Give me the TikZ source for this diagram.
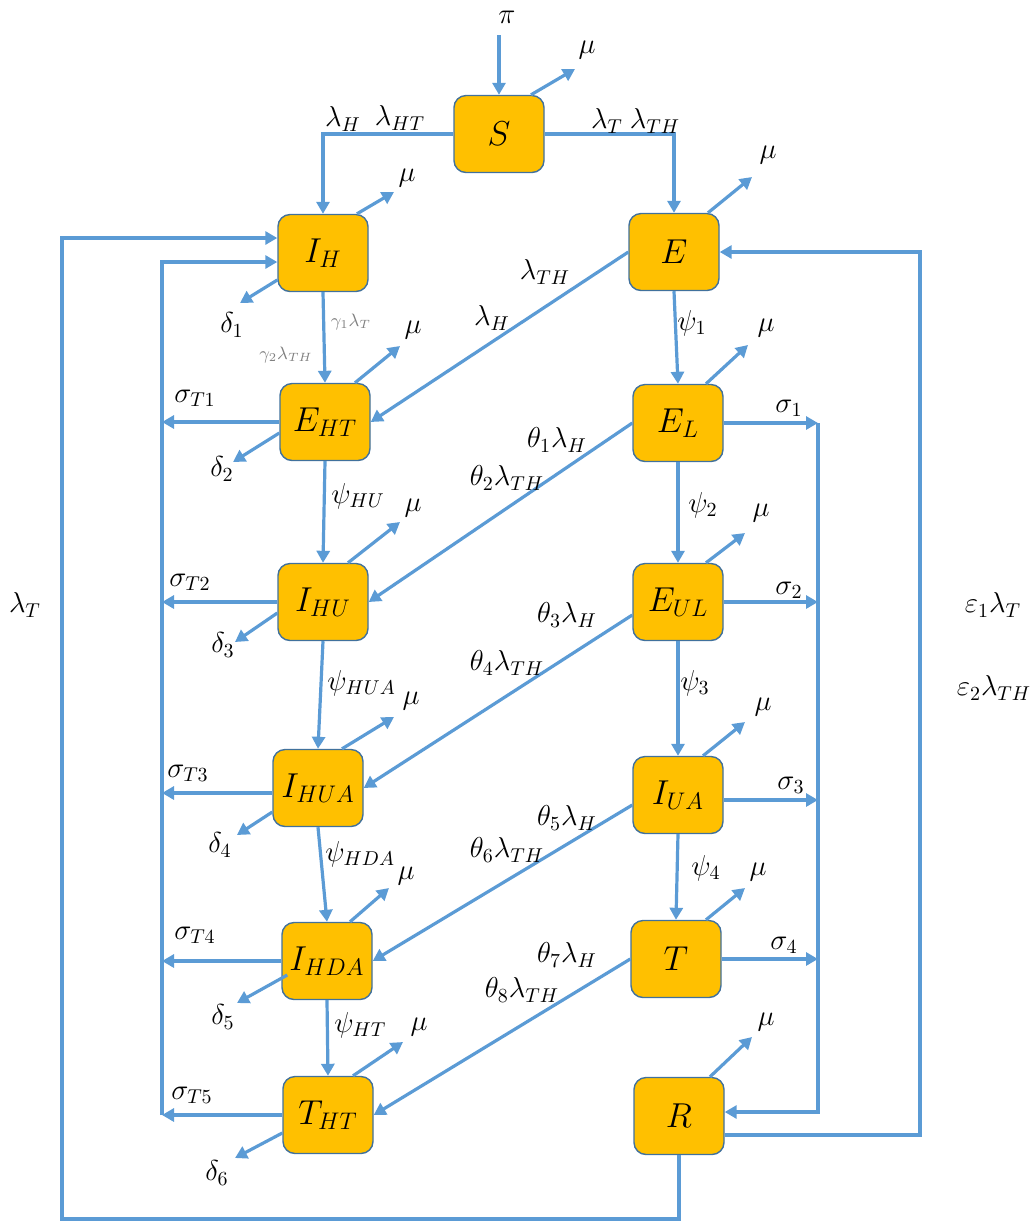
\documentclass[tikz,border=0pt]{standalone}
\usetikzlibrary{arrows.meta}
\definecolor{boxfill}{HTML}{FFC000}
\definecolor{boxline}{HTML}{41719C}
\definecolor{flowc}{HTML}{5B9BD5}
\begin{document}
\begin{tikzpicture}[x=0.5pt,y=-0.5pt,
  comp/.style={draw=boxline, line width=0.7pt, fill=boxfill, rounded corners=6pt,
    minimum width=45pt, minimum height=38.5pt, inner sep=0pt, font=\fontsize{17}{19}\selectfont},
  flow/.style={draw=flowc, line width=1.6pt, -{Triangle[length=6pt,width=6.5pt]}},
  lab/.style={font=\fontsize{14.4}{17}\selectfont, inner sep=0pt},
  glab/.style={font=\fontsize{9}{11}\selectfont, text=gray, inner sep=0pt}]
\useasboundingbox (0,0) rectangle (1033,1223);

% compartments
\node[comp] (S)    at (499,134)  {$S$};
\node[comp] (IH)   at (323,253)  {$I_H$};
\node[comp] (E)    at (674,252)  {$E$};
\node[comp] (EHT)  at (325,422)  {$E_{HT}$};
\node[comp] (EL)   at (678,423)  {$E_L$};
\node[comp] (IHU)  at (323,602)  {$I_{HU}$};
\node[comp] (EUL)  at (678,602)  {$E_{UL}$};
\node[comp] (IHUA) at (318,788)  {$I_{HUA}$};
\node[comp] (IUA)  at (678,795)  {$I_{UA}$};
\node[comp] (IHDA) at (327,961)  {$I_{HDA}$};
\node[comp] (T)    at (676,959)  {$T$};
\node[comp] (THT)  at (328,1115) {$T_{HT}$};
\node[comp] (R)    at (679,1116) {$R$};

% helper coordinates
\coordinate (piS) at (499,35);
\coordinate (cl) at (162,0);
\coordinate (cr) at (818,0);
\coordinate (rr) at (920,0);
\coordinate (bl) at (62,1219);

% recruitment
\node[lab] (pi) at (507,17) {$\pi$};
\draw[flow] (piS) -- (S.north);

% mu arrows
\coordinate (mS) at (575,69);
\coordinate (mIH) at (394,192);
\coordinate (mE) at (752,177);
\coordinate (mEHT) at (400,346);
\coordinate (mEL) at (748,345);
\coordinate (mIHU) at (400,522);
\coordinate (mEUL) at (745,533);
\coordinate (mIHUA) at (394,717);
\coordinate (mIUA) at (745,722);
\coordinate (mIHDA) at (389,888);
\coordinate (mT) at (745,888);
\coordinate (mTHT) at (403,1042);
\coordinate (mR) at (752,1037);
\draw[flow] ([xshift=16pt]S.north) -- (mS);
\draw[flow] ([xshift=17pt]IH.north) -- (mIH);
\draw[flow] ([xshift=17pt]E.north) -- (mE);
\draw[flow] ([xshift=15pt]EHT.north) -- (mEHT);
\draw[flow] ([xshift=14pt]EL.north) -- (mEL);
\draw[flow] ([xshift=12.5pt]IHU.north) -- (mIHU);
\draw[flow] ([xshift=14pt]EUL.north) -- (mEUL);
\draw[flow] ([xshift=12pt]IHUA.north) -- (mIHUA);
\draw[flow] ([xshift=12.5pt]IUA.north) -- (mIUA);
\draw[flow] ([xshift=11.5pt]IHDA.north) -- (mIHDA);
\draw[flow] ([xshift=15pt]T.north) -- (mT);
\draw[flow] ([xshift=12.5pt]THT.north) -- (mTHT);
\draw[flow] ([xshift=15.5pt]R.north) -- (mR);
\node[lab] at (587,50) {$\mu$};
\node[lab] at (407,178) {$\mu$};
\node[lab] at (768,155) {$\mu$};
\node[lab] at (413,330) {$\mu$};
\node[lab] at (766,328) {$\mu$};
\node[lab] at (413,508) {$\mu$};
\node[lab] at (761,513) {$\mu$};
\node[lab] at (411,701) {$\mu$};
\node[lab] at (763,707) {$\mu$};
\node[lab] at (406,876) {$\mu$};
\node[lab] at (758,872) {$\mu$};
\node[lab] at (419,1027) {$\mu$};
\node[lab] at (766,1022) {$\mu$};

% delta arrows
\coordinate (dIH) at (240,303);
\coordinate (dEHT) at (233,462);
\coordinate (dIHU) at (235,642);
\coordinate (dIHUA) at (237,835);
\coordinate (dIHDA) at (237,1003);
\coordinate (dTHT) at (235,1158);
\draw[flow] ([yshift=-13.5pt]IH.west) -- (dIH);
\draw[flow] ([yshift=-5.5pt]EHT.west) -- (dEHT);
\draw[flow] ([yshift=-5.5pt]IHU.west) -- (dIHU);
\draw[flow] ([yshift=-12pt]IHUA.west) -- (dIHUA);
\draw[flow] ([xshift=3pt,yshift=-7pt]IHDA.west) -- (dIHDA);
\draw[flow] ([yshift=-9pt]THT.west) -- (dTHT);
\node[lab] at (232,325) {$\delta_1$};
\node[lab] at (222,469) {$\delta_2$};
\node[lab] at (223,645) {$\delta_3$};
\node[lab] at (220,845) {$\delta_4$};
\node[lab] at (223,1017) {$\delta_5$};
\node[lab] at (217,1173) {$\delta_6$};

% infection from S
\draw[flow] (S.west) -| (IH.north);
\draw[flow] (S.east) -| (E.north);
\node[lab] at (343,119) {$\lambda_H$};
\node[lab] at (400,118) {$\lambda_{HT}$};
\node[lab] at (607,121) {$\lambda_T$};
\node[lab] at (655,121) {$\lambda_{TH}$};

% left chain
\draw[flow] (IH.south) -- (EHT.north);
\node[glab] at (351,322) {$\gamma_1\lambda_T$};
\node[glab] at (286,355) {$\gamma_2\lambda_{TH}$};
\draw[flow] (EHT.south) -- (IHU.north);
\node[lab, anchor=west] at (331,496) {$\psi_{HU}$};
\draw[flow] (IHU.south) -- (IHUA.north);
\node[lab, anchor=west] at (327,683) {$\psi_{HUA}$};
\draw[flow] (IHUA.south) -- (IHDA.north);
\node[lab, anchor=west] at (325,854) {$\psi_{HDA}$};
\draw[flow] (IHDA.south) -- (THT.north);
\node[lab, anchor=west] at (334,1025) {$\psi_{HT}$};

% right chain
\draw[flow] (E.south) -- (EL.north);
\node[lab] at (692,323) {$\psi_1$};
\draw[flow] (EL.south) -- (EUL.north);
\node[lab] at (703,505) {$\psi_2$};
\draw[flow] (EUL.south) -- (IUA.north);
\node[lab] at (695,683) {$\psi_3$};
\draw[flow] (IUA.south) -- (T.north);
\node[lab] at (706,868) {$\psi_4$};

% co-infection diagonals
\draw[flow] (E.west) -- (EHT.east);
\node[lab] at (545,272) {$\lambda_{TH}$};
\node[lab] at (492,318) {$\lambda_H$};
\draw[flow] (EL.west) -- (IHU.east);
\node[lab] at (557,440) {$\theta_1\lambda_H$};
\node[lab] at (507,478) {$\theta_2\lambda_{TH}$};
\draw[flow] ([yshift=-6.5pt]EUL.west) -- (IHUA.east);
\node[lab] at (567,615) {$\theta_3\lambda_H$};
\node[lab] at (507,663) {$\theta_4\lambda_{TH}$};
\draw[flow] ([yshift=-5pt]IUA.west) -- (IHDA.east);
\node[lab] at (567,818) {$\theta_5\lambda_H$};
\node[lab] at (507,850) {$\theta_6\lambda_{TH}$};
\draw[flow] (T.west) -- (THT.east);
\node[lab] at (567,955) {$\theta_7\lambda_H$};
\node[lab] at (522,990) {$\theta_8\lambda_{TH}$};

% left sigma_T collector
\draw[flow] (EHT.west) -- (EHT.west -| cl);
\draw[flow] (IHU.west) -- (IHU.west -| cl);
\draw[flow] ([yshift=-2.5pt]IHUA.west) -- ([yshift=-2.5pt]IHUA.west -| cl);
\draw[flow] (IHDA.west) -- (IHDA.west -| cl);
\draw[flow] (THT.west) -- (THT.west -| cl);
\draw[flow] (cl |- THT.west) |- ([yshift=-4.5pt]IH.west);
\node[lab] at (195,398) {$\sigma_{T1}$};
\node[lab] at (190,582) {$\sigma_{T2}$};
\node[lab] at (188,773) {$\sigma_{T3}$};
\node[lab] at (195,935) {$\sigma_{T4}$};
\node[lab] at (192,1095) {$\sigma_{T5}$};

% right sigma collector to R
\draw[flow] (EL.east) -- (EL.east -| cr);
\draw[flow] (EUL.east) -- (EUL.east -| cr);
\draw[flow] ([yshift=-2.5pt]IUA.east) -- ([yshift=-2.5pt]IUA.east -| cr);
\draw[flow] (T.east) -- (T.east -| cr);
\draw[flow] (cr |- EL.east) |- ([yshift=2pt]R.east);
\node[lab] at (789,408) {$\sigma_1$};
\node[lab] at (789,590) {$\sigma_2$};
\node[lab] at (791,785) {$\sigma_3$};
\node[lab] at (784,945) {$\sigma_4$};

% reinfection from R
\draw[flow] ([yshift=-9.5pt]R.east) -| (rr |- E.east) -- (E.east);
\node[lab] at (993,605) {$\varepsilon_1\lambda_T$};
\node[lab] at (994,688) {$\varepsilon_2\lambda_{TH}$};
\draw[flow] (R.south) |- (bl) |- ([yshift=7.5pt]IH.west);
\node[lab] at (25,605) {$\lambda_T$};
\end{tikzpicture}
\end{document}
